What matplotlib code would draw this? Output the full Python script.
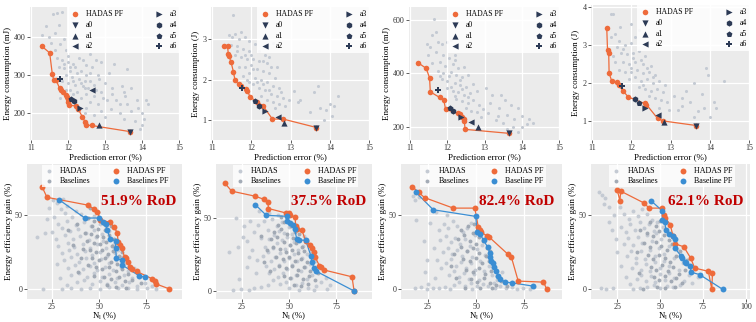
import matplotlib
matplotlib.use("Agg")
import matplotlib.pyplot as plt

plt.rcParams['font.family'] = ['Liberation Serif', 'DejaVu Serif']
plt.rcParams['mathtext.fontset'] = 'custom'
plt.rcParams['mathtext.rm'] = 'Liberation Serif'
plt.rcParams['mathtext.it'] = 'Liberation Serif'

W, H = 756, 322

# ---------------- Top row data ----------------
top_ylabels = ["Energy consumption (mJ)", "Energy consumption (J)",
               "Energy consumption (mJ)", "Energy consumption (J)"]
top_ylims = [(130, 478), (0.5, 3.8), (150, 650), (0.5, 4.05)]
top_yticks = [[200, 300, 400], [1, 2, 3], [200, 400, 600], [1, 2, 3, 4]]
top_xticks = [11, 12, 13, 14, 15]
baseline_names = ["a0", "a1", "a2", "a3", "a4", "a5", "a6"]

cloud_t1 = [(11.6,460),(11.7,462),(11.85,465),(12.1,450),(12.1,440),(11.4,428),(11.75,430),(11.3,405),
            (11.5,400),(11.65,410),(11.9,395),(12.2,400),(11.55,385),(11.8,380),(12.1,375),(11.95,365),
            (12.3,370),(12.6,355),(12.4,340),(11.7,345),(11.85,340),(12.0,335),(12.15,330),(11.75,320),
            (11.9,318),(12.05,310),(12.2,320),(12.35,310),(12.5,300),(12.75,340),(12.6,305),(11.95,300),
            (12.1,295),(12.3,290),(12.45,285),(12.0,280),(12.2,275),(12.4,270),(12.55,265),(12.7,275),
            (12.85,290),(13.1,305),(12.25,255),(12.5,250),(12.7,245),(12.9,255),(13.2,265),(13.45,270),
            (13.5,255),(12.35,240),(12.6,230),(12.8,225),(13.05,235),(13.3,235),(13.55,245),(13.7,265),
            (13.6,225),(13.85,235),(14.1,235),(14.15,225),(13.9,215),(12.5,215),(12.9,205),(13.15,210),
            (13.4,200),(13.7,205),(14.0,200),(12.7,195),(13.0,190),(13.5,185),(13.8,180),(14.05,185),
            (14.0,170),(13.95,160),(12.45,200),(11.8,240),(12.05,260),(12.15,250),(11.85,285),(11.95,262),
            (12.65,320),(12.9,335),(11.5,355),(12.3,345),(12.45,265),(12.8,300),(13.0,280),(13.25,330),
            (13.6,315),(13.4,225),(11.65,365),(12.0,350),(12.25,305),(12.35,280),(12.6,285),(12.15,285),
            (12.05,320),(11.9,330),(12.5,325),(12.75,260),(12.95,240),(13.2,250)]
cloud_t2 = [(11.55,3.6),(11.45,3.1),(11.52,3.05),(11.6,3.12),(11.75,3.18),(11.7,3.0),(11.85,3.05),
            (11.95,2.95),(12.1,2.88),(12.55,2.9),(11.5,2.85),(11.65,2.82),(11.8,2.75),(11.95,2.72),
            (12.2,2.7),(12.35,2.6),(11.6,2.6),(11.75,2.55),(11.9,2.5),(12.05,2.52),(12.2,2.45),(12.4,2.4),
            (12.5,2.3),(11.7,2.3),(11.85,2.3),(12.0,2.35),(12.15,2.25),(12.3,2.2),(12.45,2.15),(12.6,2.05),
            (11.8,2.1),(11.95,2.15),(12.1,2.05),(12.25,2.0),(12.4,1.95),(12.55,1.85),(12.7,1.8),(11.95,1.95),
            (12.05,1.9),(12.2,1.8),(12.35,1.75),(12.5,1.65),(12.65,1.6),(12.8,1.55),(12.25,1.6),(12.4,1.5),
            (12.55,1.45),(12.7,1.4),(12.85,1.35),(12.6,1.3),(12.95,1.5),(13.1,1.72),(13.25,1.5),(13.6,1.7),
            (13.7,1.85),(13.75,1.3),(13.9,1.25),(14.0,1.4),(14.2,1.6),(14.1,1.35),(13.5,1.2),(13.2,1.45),
            (13.85,1.0),(14.05,1.1),(12.45,2.55),(12.65,2.3),(11.9,2.0),(11.65,2.7),(11.85,2.62),
            (12.05,2.25),(12.15,1.95),(12.3,1.9),(12.0,2.6),(12.3,2.45),(12.45,1.75),(12.75,1.7)]
cloud_t3 = [(11.65,605),(11.7,555),(11.6,545),(11.45,510),(11.55,500),(11.85,510),(12.0,520),(12.1,525),
            (11.5,470),(11.7,480),(11.9,470),(12.05,460),(12.2,470),(11.6,440),(11.8,445),(11.95,430),
            (12.15,435),(12.3,420),(12.45,425),(11.75,410),(11.9,400),(12.1,405),(12.25,395),(12.4,385),
            (12.55,395),(11.85,380),(12.0,370),(12.2,365),(12.35,355),(12.5,350),(12.7,360),(12.0,345),
            (12.15,335),(12.3,330),(12.45,320),(12.6,325),(12.8,335),(13.05,345),(12.25,305),(12.4,295),
            (12.55,290),(12.7,300),(12.85,280),(12.5,270),(12.65,260),(12.8,255),(12.95,265),(13.2,320),
            (13.45,320),(13.55,300),(13.15,290),(13.4,270),(13.7,280),(13.9,270),(13.1,250),(13.35,240),
            (13.6,245),(13.8,230),(14.0,240),(14.2,230),(14.3,215),(13.5,215),(13.75,200),(14.0,200),
            (14.15,210),(13.3,225),(12.9,235),(13.6,190),(13.9,180),(12.2,450),(11.75,520),(11.8,390),
            (12.05,390),(12.35,375),(12.1,350),(12.4,340),(12.55,310),(12.2,315)]
cloud_t4 = [(11.5,3.82),(11.55,3.82),(11.72,3.48),(11.6,3.3),(11.5,3.2),(11.7,3.1),(11.85,3.0),(11.65,2.95),
            (12.0,3.05),(12.2,3.4),(11.55,2.7),(11.75,2.8),(11.9,2.75),(12.05,2.8),(12.2,2.85),(12.35,2.7),
            (11.6,2.55),(11.8,2.55),(11.95,2.5),(12.1,2.55),(12.3,2.5),(12.5,2.45),(11.7,2.35),(11.85,2.3),
            (12.0,2.3),(12.15,2.35),(12.3,2.25),(12.45,2.3),(12.6,2.2),(11.95,2.1),(12.1,2.15),(12.25,2.05),
            (12.4,2.1),(12.55,2.0),(12.7,2.05),(12.85,1.95),(12.2,1.9),(12.35,1.85),(12.5,1.8),(12.65,1.85),
            (12.8,1.75),(12.45,1.65),(12.6,1.6),(12.75,1.55),(12.9,1.5),(12.7,1.35),(12.95,1.3),(13.1,1.65),
            (13.3,1.6),(13.4,1.8),(13.6,2.0),(13.9,2.4),(13.95,2.2),(14.35,2.05),(13.5,1.5),(13.7,1.25),
            (13.85,1.35),(14.0,1.1),(14.1,1.5),(14.15,1.35),(13.2,1.3),(13.6,1.1),(13.8,1.7),(13.3,1.4),
            (12.0,3.55),(12.1,3.2),(11.8,2.9),(12.05,2.65),(12.25,2.6),(12.4,2.4),(12.0,2.4),(12.55,2.15),
            (12.3,1.95)]

pf_t1 = [(11.29,376),(11.51,358),(11.58,303),(11.62,287),(11.68,287),(11.78,265),(11.82,261),(11.87,256),
         (11.94,248),(11.98,242),(12.0,237),(12.0,230),(12.03,221),(12.23,219),(12.28,210),(12.39,191),
         (12.46,178),(12.5,169),(12.64,168),(13.67,152)]
pf_t2 = [(11.32,2.83),(11.40,2.83),(11.42,2.63),(11.44,2.58),(11.49,2.43),(11.55,2.19),(11.59,1.98),
         (11.68,1.88),(11.75,1.84),(11.86,1.77),(11.90,1.72),(11.98,1.56),(12.15,1.45),(12.30,1.35),
         (12.54,1.02),(12.81,1.02),(13.66,0.81)]
pf_t3 = [(11.22,441),(11.44,419),(11.53,384),(11.55,331),(11.80,310),(11.91,300),(11.96,265),(12.28,250),
         (12.35,246),(12.41,235),(12.44,229),(12.46,222),(12.48,190),(13.66,175)]
pf_t4 = [(11.38,3.45),(11.40,2.86),(11.43,2.79),(11.44,2.26),(11.51,2.04),(11.64,2.02),(11.68,1.94),
         (11.80,1.78),(11.93,1.63),(12.34,1.46),(12.39,1.43),(12.67,1.07),(12.82,1.00),(13.66,0.88)]

# baselines a0..a6 (error, energy)
base_t1 = [(13.67,152),(12.84,170),(12.64,261),(12.33,213),(12.17,233),(12.08,237),(11.78,290)]
base_t2 = [(13.66,0.81),(12.83,0.93),(12.67,1.08),(12.34,1.22),(12.20,1.35),(12.09,1.47),(11.78,1.80)]
base_t3 = [(13.66,175),(12.82,200),(12.64,216),(12.37,235),(12.17,259),(12.09,271),(11.76,337)]
base_t4 = [(13.66,0.88),(12.84,0.98),(12.67,1.17),(12.36,1.35),(12.10,1.58),(12.19,1.47),(11.76,1.93)]

# ---------------- Bottom row data ----------------
rod_labels = ["51.9% RoD", "37.5% RoD", "82.4% RoD", "62.1% RoD"]
bpf_names = ["Baselines PF", "Baseline PF", "Baseline PF", "Baseline PF"]
bot_xlims = [(11.7, 94.0), (11.3, 94.0), (11.0, 94.5), (9.7, 102.5)]
bot_ylims = [(-6.5, 84.7), (-5.5, 87.0), (-6.5, 84.7), (-6.5, 84.7)]
bot_xticks = [[25, 50, 75], [25, 50, 75], [25, 50, 75], [25, 50, 75, 100]]
bot_yticks = [0, 50]

hadas_b1 = [(25.5,60.2),(27.8,58.1),(30.6,61.0),(23.4,55.3),(29.7,54.0),(33.2,56.4),(37.9,53.1),(26.3,49.2),
            (31.8,51.4),(35.6,48.7),(40.3,50.6),(43.9,47.9),(47.2,49.8),(28.4,44.1),(33.1,46.0),(37.6,43.5),
            (41.8,45.7),(45.9,42.9),(50.4,44.3),(53.7,41.8),(24.8,38.9),(30.2,41.3),(34.7,39.2),(38.9,40.8),
            (43.2,38.1),(47.1,40.2),(51.3,37.6),(55.2,39.4),(16.9,35.4),(27.1,34.2),(31.9,36.5),(36.3,33.8),
            (40.1,35.9),(44.4,33.1),(48.2,35.3),(52.1,32.7),(56.4,34.8),(58.3,31.2),(28.2,29.4),(33.3,31.6),
            (36.8,28.7),(41.2,30.9),(45.3,28.2),(48.9,30.5),(53.4,27.9),(57.1,29.8),(60.2,26.4),(30.1,24.6),
            (34.2,26.8),(38.3,23.9),(42.5,25.7),(46.1,23.2),(50.3,25.4),(54.2,22.8),(58.4,24.9),(62.1,21.7),
            (31.2,19.6),(35.3,21.7),(39.4,18.8),(43.1,20.9),(47.4,18.1),(51.2,20.3),(55.4,17.7),(59.1,19.8),
            (63.2,16.9),(33.4,14.3),(37.2,16.5),(41.3,13.7),(45.2,15.8),(49.1,13.2),(53.3,15.4),(57.2,12.8),
            (61.4,14.9),(65.1,12.1),(68.3,14.2),(35.2,9.6),(39.1,11.4),(43.3,8.7),(47.2,10.9),(51.4,8.3),
            (55.1,10.5),(59.3,7.9),(63.1,9.8),(67.2,7.4),(71.1,9.1),(38.2,4.7),(42.1,6.1),(46.3,3.9),
            (50.2,5.8),(54.1,3.4),(58.2,5.3),(62.3,2.9),(66.1,4.8),(70.2,2.6),(74.3,4.1),(78.1,2.3),
            (20.4,0.2),(30.1,0.4),(34.8,0.9),(40.2,0.3),(45.1,1.1),(50.3,0.5),(55.2,1.3),(60.1,0.6),
            (65.3,1.2),(70.1,0.4),(75.2,0.8),(80.3,0.3),(22.3,47.5),(21.5,38.0),(27.5,17.0),(29.0,8.0),
            (33.0,3.0)]
base_b1 = [(44.1,48.2),(47.3,46.1),(50.2,47.5),(52.8,44.3),(46.2,42.7),(49.4,41.1),(53.1,40.2),(56.3,42.6),
           (42.5,38.3),(45.8,37.1),(48.7,36.2),(51.9,35.4),(55.2,36.8),(57.9,33.9),(43.6,32.8),(47.1,31.5),
           (50.4,30.7),(53.6,31.9),(56.8,29.6),(59.2,28.1),(41.2,27.4),(44.9,26.3),(48.3,25.1),(51.5,26.8),
           (54.7,24.2),(57.6,25.9),(60.8,22.7),(46.4,21.2),(49.8,19.8),(53.2,20.9),(56.5,18.6),(59.4,17.3),
           (62.7,19.1),(44.3,16.4),(48.1,14.9),(51.6,13.6),(55.3,15.2),(58.7,12.4),(61.9,13.8),(65.2,10.7),
           (47.5,9.2),(52.4,8.1),(56.1,6.9),(60.3,8.4),(63.8,5.6),(67.5,6.3),(54.2,2.8),(58.9,1.9),
           (64.1,1.1),(38.5,44.0),(36.1,30.2),(40.3,21.5),(39.0,12.0),(49.5,52.0),(45.0,55.0),(33.5,40.0),
           (62.0,25.5),(66.0,15.5),(70.5,11.0),(72.0,4.0)]
hadas_b2 = [(20.2,0.4),(24.8,1.1),(28.9,0.6),(31.5,1.8),(35.3,2.9),(38.7,4.1),(18.4,26.8),(22.1,50.2),
            (23.5,8.2),(26.1,44.3),(27.8,34.5),(29.4,48.1),(31.2,40.6),(33.6,45.2),(30.5,28.3),(33.1,21.4),
            (35.2,36.4),(36.8,47.9),(38.9,42.1),(41.2,49.3),(43.7,44.6),(46.1,47.2),(37.4,30.1),(39.6,35.8),
            (42.1,38.6),(44.5,41.3),(47.2,39.4),(49.8,43.7),(52.1,45.1),(36.4,24.2),(38.8,26.7),(41.3,29.4),
            (43.9,32.6),(46.5,34.8),(49.1,36.9),(51.6,39.2),(54.2,41.5),(37.9,17.3),(40.4,20.8),(42.8,23.5),
            (45.3,26.2),(47.8,28.9),(50.4,31.3),(52.9,33.8),(55.5,35.2),(58.1,37.4),(39.6,12.1),(42.2,14.8),
            (44.7,17.6),(47.3,20.4),(49.8,22.9),(52.4,25.6),(54.9,28.1),(57.5,30.6),(60.1,32.1),(41.5,7.3),
            (44.1,9.9),(46.6,12.6),(49.2,15.3),(51.7,17.9),(54.3,20.4),(56.8,22.8),(59.4,25.1),(61.9,27.3),
            (45.2,4.6),(48.3,6.2),(51.1,8.7),(53.6,11.2),(56.2,13.8),(58.7,16.1),(61.3,18.4),(63.8,20.6),
            (50.2,2.1),(53.8,3.9),(56.9,5.7),(59.6,8.3),(62.4,10.9),(65.1,13.2),(55.4,0.8),(60.2,1.7),
            (64.3,3.6),(67.2,6.1),(69.8,8.9),(71.5,4.2),(63.0,0.5),(70.0,1.2),(32.5,12.0),(27.5,16.5),
            (34.0,55.0),(39.5,53.2),(44.0,52.0),(48.5,50.5),(25.5,37.0),(29.0,23.5),(23.0,30.0)]
base_b2 = [(44.2,45.1),(47.6,47.3),(50.8,44.2),(53.1,40.6),(42.1,40.2),(45.5,42.4),(48.9,38.7),(52.2,36.1),
           (55.4,38.9),(40.3,35.6),(43.8,37.2),(47.1,33.4),(50.3,31.8),(53.6,33.1),(56.8,30.4),(41.7,30.1),
           (45.1,28.6),(48.4,26.9),(51.7,28.2),(54.9,25.7),(58.1,27.3),(43.2,23.4),(46.6,21.8),(49.9,23.6),
           (53.2,20.5),(56.4,22.1),(59.6,19.8),(44.8,17.2),(48.2,15.6),(51.5,17.4),(54.8,14.3),(58.1,16.2),
           (61.3,13.5),(47.1,10.4),(50.6,9.1),(54.1,11.2),(57.5,8.4),(60.8,10.1),(63.9,7.6),(52.4,4.3),
           (56.3,3.1),(60.2,4.6),(38.5,28.0),(36.5,20.0),(40.0,14.0),(58.5,35.5),(62.5,22.5),(65.5,12.5),
           (46.0,50.5),(35.0,38.0)]
hadas_b3 = [(17.2,63.1),(18.4,60.2),(20.1,62.4),(19.0,47.0),(24.6,20.1),(22.8,32.9),(27.9,28.2),(30.5,39.8),
            (33.2,44.5),(35.6,41.2),(37.8,45.9),(40.3,43.1),(42.9,38.7),(45.4,41.6),(31.4,33.5),(34.1,36.2),
            (36.7,31.8),(39.2,34.7),(41.8,30.5),(44.3,33.9),(46.9,29.2),(49.4,36.4),(32.6,25.3),(35.2,28.1),
            (37.7,23.8),(40.3,26.5),(42.8,22.4),(45.4,25.8),(47.9,21.7),(50.5,27.3),(53.1,30.2),(34.3,17.6),
            (36.8,20.4),(39.4,15.9),(41.9,18.8),(44.5,14.5),(47.1,17.6),(49.6,13.2),(52.2,19.4),(54.7,23.1),
            (36.1,9.8),(38.6,12.5),(41.2,8.3),(43.7,11.4),(46.3,7.1),(48.8,10.2),(51.4,6.3),(53.9,12.1),
            (56.5,15.8),(58.1,9.4),(38.4,3.1),(41.3,4.8),(44.1,2.6),(47.2,4.2),(50.3,2.2),(53.4,3.9),
            (56.2,2.4),(59.1,4.1),(62.3,2.1),(18.5,0.8),(21.4,1.5),(24.6,0.4),(27.5,1.2),(30.8,0.6),
            (33.9,1.7),(36.4,0.3),(65.2,0.9),(68.4,1.6),(71.3,0.5),(74.5,1.1),(77.8,0.4),(80.2,1.4),
            (23.5,12.0),(28.5,7.5),(32.0,14.5),(29.5,20.0),(26.0,45.0),(29.0,52.0),(35.0,50.5),(61.0,6.5),
            (63.5,12.0),(47.5,45.0),(51.0,40.5),(25.0,3.5),(48.0,0.5),(60.0,0.8)]
base_b3 = [(42.3,40.1),(45.6,42.8),(48.4,38.3),(51.2,35.6),(40.5,34.2),(43.7,36.5),(46.9,32.8),(50.1,30.4),
           (53.4,32.9),(55.8,28.1),(41.9,28.3),(45.2,26.1),(48.5,27.9),(51.7,24.6),(54.9,22.3),(57.2,25.7),
           (43.4,20.5),(46.7,18.9),(49.9,21.2),(53.2,17.6),(56.4,19.3),(58.8,15.2),(44.8,13.1),(48.1,11.8),
           (51.4,14.4),(54.6,10.7),(57.9,12.6),(60.6,8.9),(47.2,6.8),(50.5,5.1),(53.8,7.4),(57.1,4.6),
           (60.3,3.2),(63.1,5.8),(38.5,24.0),(37.0,16.0),(39.5,8.0),(49.0,44.5),(44.0,1.0),(52.0,1.2),
           (58.0,0.6),(66.0,2.5)]
hadas_b4 = [(14.3,65.8),(16.2,63.9),(18.1,61.7),(17.4,57.6),(20.3,45.2),(22.1,40.3),(24.2,34.1),(15.5,0.6),
            (18.2,0.3),(22.4,0.9),(34.1,0.4),(38.2,0.7),(26.5,55.4),(29.1,51.2),(31.8,47.6),(34.4,52.8),
            (37.1,49.3),(39.7,54.1),(42.3,50.6),(45.1,47.2),(27.3,42.1),(30.1,38.6),(32.7,43.9),(35.4,40.2),
            (38.1,45.7),(40.8,41.8),(43.4,44.3),(46.2,39.5),(28.8,30.4),(31.5,34.7),(34.2,29.8),(36.9,35.1),
            (39.6,31.2),(42.3,36.4),(45.1,32.6),(47.8,37.9),(50.5,34.1),(30.6,22.3),(33.3,26.1),(36.0,21.4),
            (38.7,25.9),(41.4,20.8),(44.2,26.7),(46.9,22.5),(49.6,27.8),(52.3,24.1),(55.0,29.6),(33.5,14.2),
            (36.2,17.8),(38.9,13.1),(41.6,16.9),(44.4,12.4),(47.1,18.2),(49.8,14.6),(52.5,19.3),(55.3,15.8),
            (58.0,21.4),(36.4,6.8),(39.1,9.5),(41.8,5.7),(44.6,8.9),(47.3,4.8),(50.0,10.1),(52.8,6.4),
            (55.5,11.3),(58.2,7.6),(61.0,12.8),(42.5,1.9),(46.3,2.8),(50.1,1.2),(53.9,2.6),(57.6,1.4),
            (61.4,3.1),(64.2,5.9),(66.8,9.4),(25.0,25.0),(27.5,15.5),(30.0,8.5),(32.5,3.5),(23.0,50.0),
            (20.0,55.5),(48.5,45.5),(52.0,42.0),(56.5,38.0),(60.0,27.0),(63.5,17.5),(68.5,4.0),(72.0,8.5)]
base_b4 = [(44.1,45.3),(47.4,42.6),(50.2,46.1),(42.6,38.4),(45.8,35.9),(49.1,39.2),(52.3,36.7),(55.4,33.2),
           (40.9,31.1),(44.2,28.7),(47.5,31.8),(50.8,29.3),(54.1,26.7),(57.2,30.4),(42.7,22.9),(46.0,20.6),
           (49.3,23.4),(52.6,21.1),(55.8,18.7),(59.1,22.5),(44.5,15.2),(47.8,13.4),(51.1,16.3),(54.4,12.1),
           (57.7,14.8),(60.9,10.6),(46.2,8.1),(49.6,6.3),(52.9,9.2),(56.2,5.4),(59.5,7.8),(62.8,4.1),
           (48.0,1.5),(53.0,0.8),(58.5,1.8),(38.5,40.0),(36.5,25.0),(38.0,11.0),(40.0,0.5),(64.5,13.0),
           (66.0,20.0),(61.5,26.0)]

hpf_b1 = [(19.7,69.3),(22.3,62.2),(44.1,56.9),(47.2,54.4),(49.1,52.2),(50.7,46.9),(56.0,45.3),(57.8,42.2),
          (59.6,38.4),(60.1,32.0),(61.3,30.0),(61.9,28.2),(63.5,22.0),(64.4,20.9),(65.2,18.7),(66.3,15.3),
          (67.2,13.8),(69.9,12.2),(78.2,7.1),(79.4,5.6),(80.0,3.8),(87.1,0.4)]
bpf_b1 = [(28.9,60.4),(42.4,48.2),(49.8,48.2),(52.1,45.6),(53.4,44.2),(54.3,39.8),(56.0,34.2),(58.7,32.7),
          (58.7,27.8),(59.2,20.9),(61.9,19.8),(62.3,16.4),(71.1,9.3),(74.1,8.2)]
hpf_b2 = [(16.1,73.7),(19.6,68.4),(31.8,65.0),(37.0,62.7),(38.8,61.1),(39.1,56.5),(48.2,53.5),(50.0,53.5),
          (50.4,51.8),(53.2,50.5),(53.6,44.2),(54.5,42.4),(56.8,41.9),(58.9,33.9),(61.1,31.6),(62.0,29.7),
          (63.4,27.0),(63.8,23.5),(66.1,17.3),(67.0,16.4),(68.8,14.3),(83.4,9.7),(84.5,0.0)]
bpf_b2 = [(32.1,59.2),(38.0,51.8),(48.8,51.2),(49.1,47.7),(50.5,46.5),(51.9,44.9),(53.0,42.6),(54.1,35.5),
          (55.4,35.0),(58.9,34.6),(61.6,24.0),(62.1,20.0),(63.4,15.4),(64.3,13.6),(84.5,0.0)]
hpf_b3 = [(16.9,69.3),(20.1,65.6),(23.2,62.0),(38.1,54.9),(49.3,54.9),(51.1,42.0),(52.0,40.4),(52.5,38.9),
          (55.6,36.0),(56.5,35.6),(66.4,23.8),(68.2,22.0),(71.8,5.6),(84.9,4.9),(86.5,0.4)]
bpf_b3 = [(18.7,65.6),(27.7,53.8),(49.8,49.3),(50.4,38.9),(52.0,37.6),(53.8,33.1),(55.9,28.7),(57.0,24.9),
          (57.4,22.0),(57.9,19.3),(58.6,17.6),(59.2,14.9),(60.4,12.2),(61.5,9.3),(62.4,7.1),(65.1,4.9),
          (68.7,4.4),(79.5,2.2)]
hpf_b4 = [(25.0,67.1),(27.0,66.4),(26.6,59.8),(40.9,58.2),(43.5,54.9),(51.0,54.9),(52.4,50.4),(53.0,48.2),
          (56.0,43.8),(57.5,36.0),(58.7,30.9),(63.9,28.7),(67.9,21.1),(70.2,14.4),(78.2,12.2),(80.6,10.9),
          (80.2,0.0)]
bpf_b4 = [(44.8,59.8),(51.3,53.1),(51.3,46.7),(52.8,45.3),(53.4,40.4),(55.2,37.6),(57.8,36.0),(58.6,33.8),
          (58.6,27.8),(62.2,22.7),(62.8,20.9),(64.7,18.7),(65.1,17.6),(67.7,15.6),(68.1,11.6),(73.1,10.0),
          (86.6,0.0)]

# ---------------- styling ----------------
BG = '#EBEBEB'
ORANGE = '#EE6B3B'
BLUE = '#3B8ED3'
NAVY = '#2C3A55'
LIGHT = '#C4CAD3'
DARK = '#9AA3AF'
RED = '#C00000'
base_markers = ['v', '^', '<', '>', 'h', 'p', 'P']

fig = plt.figure(figsize=(W / 100, H / 100), dpi=100)


def rect(l, r, t, b):
    return [l / W, 1 - b / H, (r - l) / W, (b - t) / H]


def style(ax):
    ax.set_facecolor(BG)
    for s in ax.spines.values():
        s.set_visible(False)
    ax.grid(True, color='white', lw=0.9)
    ax.set_axisbelow(True)
    ax.tick_params(labelsize=5.8, length=2.2, width=0.6, color='#444444', pad=1.0, labelcolor='#333333')


top_rects = [rect(30, 180, 7, 140), rect(211, 370, 7, 140), rect(409, 560, 7, 140), rect(591, 750, 5, 140)]
bot_rects = [rect(27, 182, 164, 299), rect(216, 372, 164, 299), rect(401, 562, 164, 299), rect(591, 750, 164, 299)]

clouds = [cloud_t1, cloud_t2, cloud_t3, cloud_t4]
pfs = [pf_t1, pf_t2, pf_t3, pf_t4]
bases = [base_t1, base_t2, base_t3, base_t4]

for i in range(4):
    ax = fig.add_axes(top_rects[i])
    style(ax)
    cx, cy = zip(*clouds[i])
    ax.scatter(cx, cy, s=5, color=LIGHT, lw=0, zorder=2)
    px, py = zip(*sorted(pfs[i]))
    ax.plot(px, py, color=ORANGE, lw=0.9, zorder=3)
    ax.scatter(px, py, s=16, color=ORANGE, lw=0, zorder=4, label='HADAS PF')
    for j, (bx, by) in enumerate(bases[i]):
        ax.scatter([bx], [by], s=20, marker=base_markers[j], color=NAVY, lw=0, zorder=5,
                   label=baseline_names[j])
    ax.set_xlim(10.98, 15.02)
    ax.set_ylim(*top_ylims[i])
    ax.set_xticks(top_xticks)
    ax.set_yticks(top_yticks[i])
    ax.set_xlabel('Prediction error (%)', fontsize=6.5, labelpad=0.5)
    ax.set_ylabel(top_ylabels[i], fontsize=6.5, labelpad=1.5)
    ax.legend(ncol=2, loc='upper right', bbox_to_anchor=(1.0, 1.0), borderaxespad=0.0,
              fontsize=5.6, frameon=True, framealpha=0.85, facecolor='white', edgecolor='none',
              fancybox=False, labelspacing=0.35, handletextpad=0.8, columnspacing=4.0,
              borderpad=0.4, handlelength=1.2, markerscale=1.0)

hadas_list = [hadas_b1, hadas_b2, hadas_b3, hadas_b4]
basec_list = [base_b1, base_b2, base_b3, base_b4]
hpf_list = [hpf_b1, hpf_b2, hpf_b3, hpf_b4]
bpf_list = [bpf_b1, bpf_b2, bpf_b3, bpf_b4]

for i in range(4):
    ax = fig.add_axes(bot_rects[i])
    style(ax)
    hx, hy = zip(*hadas_list[i])
    ax.scatter(hx, hy, s=8, color=LIGHT, lw=0, zorder=2, label='HADAS')
    bx, by = zip(*basec_list[i])
    ax.scatter(bx, by, s=8, color=DARK, lw=0, zorder=2, alpha=0.9, label='Baselines')
    ox, oy = zip(*sorted(hpf_list[i], key=lambda p: (p[0], -p[1])))
    ax.plot(ox, oy, color=ORANGE, lw=0.9, zorder=3)
    ax.scatter(ox, oy, s=18, color=ORANGE, lw=0, zorder=4, label='HADAS PF')
    ux, uy = zip(*sorted(bpf_list[i], key=lambda p: (p[0], -p[1])))
    ax.plot(ux, uy, color=BLUE, lw=0.9, zorder=3)
    ax.scatter(ux, uy, s=18, color=BLUE, lw=0, zorder=4, label=bpf_names[i])
    ax.set_xlim(*bot_xlims[i])
    ax.set_ylim(*bot_ylims[i])
    ax.set_xticks(bot_xticks[i])
    ax.set_yticks(bot_yticks)
    ax.set_xlabel(r'N$_l$ (%)', fontsize=6.3, labelpad=-0.5)
    ax.set_ylabel('Energy efficiency gain (%)', fontsize=6.5, labelpad=1.5)
    ax.legend(ncol=2, loc='upper center', bbox_to_anchor=(0.51, 1.0), borderaxespad=0.15,
              fontsize=5.8, frameon=True, framealpha=0.8, facecolor='white', edgecolor='none',
              fancybox=False, labelspacing=0.2, handletextpad=0.8, columnspacing=2.5,
              borderpad=0.25, handlelength=1.2)
    ax.text(0.72, 0.72, rod_labels[i], transform=ax.transAxes, color=RED, fontsize=11,
            fontweight='bold', ha='center', va='center', zorder=6)

fig.savefig('out.png', dpi=100)
